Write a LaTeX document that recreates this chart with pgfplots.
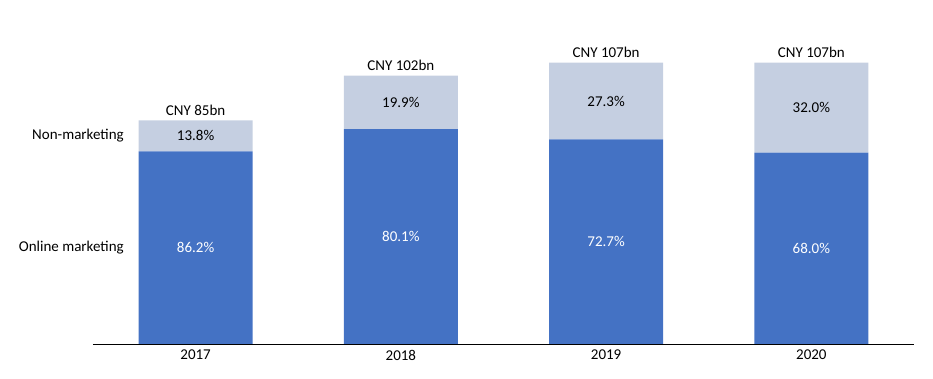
\documentclass[border=0pt]{standalone}
\usepackage{pgfplots}
\pgfplotsset{compat=1.18}
\usepackage{fontspec}
\setmainfont{Carlito}
\definecolor{dblue}{HTML}{4472C4}
\definecolor{lblue}{HTML}{C5CFE1}
\begin{document}
\fontsize{15}{18}\selectfont
\begin{tikzpicture}
\begin{axis}[
  name=ax,
  scale only axis,
  width=821pt, height=344pt,
  ybar stacked, bar width=0.555,
  xmin=-0.5, xmax=3.5, ymin=0, ymax=130.8,
  hide y axis,
  axis x line*=bottom,
  x axis line style={-, black, line width=0.8pt},
  xtick=data, xticklabels={2017,2018,2019,2020},
  major tick length=0pt,
  xticklabel style={yshift=-1pt},
  /pgf/number format/assume math mode=true,
  clip=false,
]
\addplot[fill=dblue, draw=none] coordinates {(0,73.27) (1,81.70) (2,77.79) (3,72.76)};
\addplot[fill=lblue, draw=none] coordinates {(0,11.73) (1,20.30) (2,29.21) (3,34.24)};
\coordinate (a0) at (axis cs:0,36.6);
\coordinate (a1) at (axis cs:1,40.85);
\coordinate (a2) at (axis cs:2,38.9);
\coordinate (a3) at (axis cs:3,36.4);
\coordinate (b0) at (axis cs:0,79.14);
\coordinate (b1) at (axis cs:1,91.85);
\coordinate (b2) at (axis cs:2,92.4);
\coordinate (b3) at (axis cs:3,89.9);
\node[anchor=east] at (axis cs:-0.325,79.14) {Non-marketing};
\node[anchor=east] at (axis cs:-0.325,36.6) {Online marketing};
\node[anchor=south] at (axis cs:0,85) {CNY 85bn};
\node[anchor=south] at (axis cs:1,102) {CNY 102bn};
\node[anchor=south] at (axis cs:2,107) {CNY 107bn};
\node[anchor=south] at (axis cs:3,107) {CNY 107bn};
\end{axis}
\node[text=white] at (a0) {86.2\%};
\node[text=white] at (a1) {80.1\%};
\node[text=white] at (a2) {72.7\%};
\node[text=white] at (a3) {68.0\%};
\node at (b0) {13.8\%};
\node at (b1) {19.9\%};
\node at (b2) {27.3\%};
\node at (b3) {32.0\%};
\path (ax.south west) ++(-93pt,-35pt) coordinate (bl);
\path (ax.north east) ++(19pt,0pt) coordinate (tr);
\path[use as bounding box] (bl) rectangle (tr);
\end{tikzpicture}
\end{document}
